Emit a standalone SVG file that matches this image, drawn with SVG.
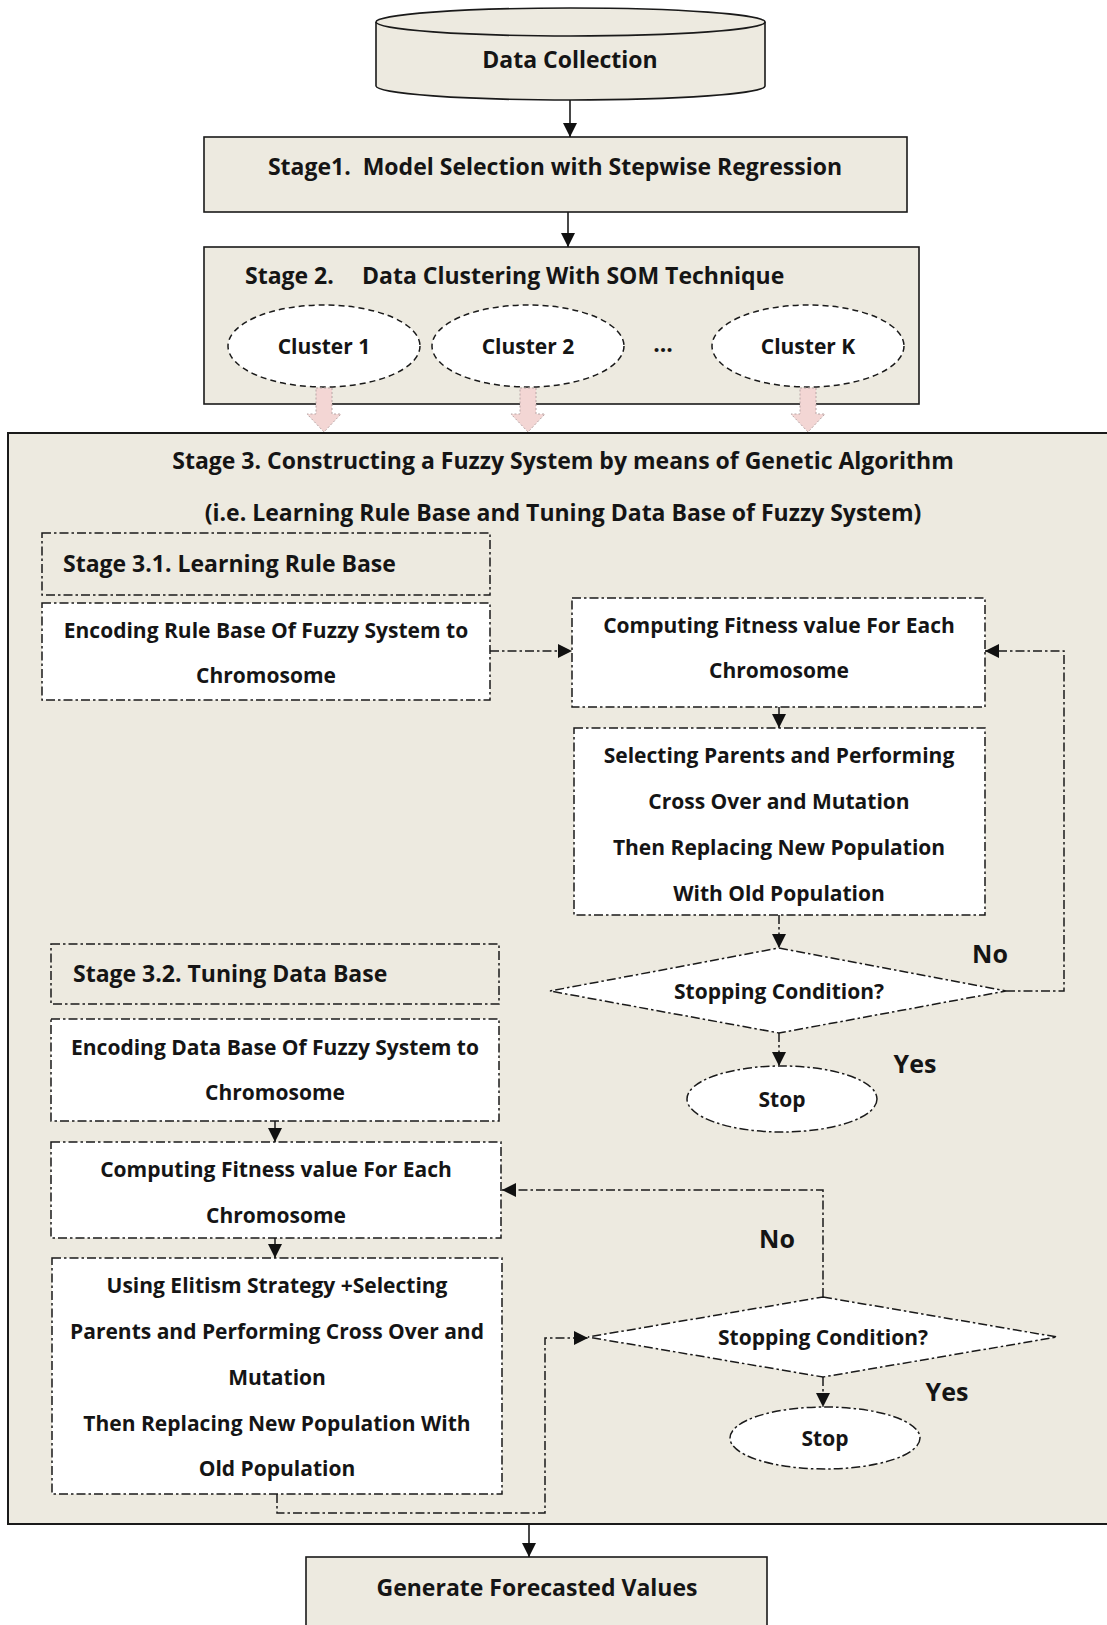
<svg xmlns="http://www.w3.org/2000/svg" width="1107" height="1625" viewBox="0 0 1107 1625">
<defs>
<style>
text{font-family:"Open Sans","Noto Sans","Liberation Sans",sans-serif;font-weight:bold;fill:#151515;}
.c{text-anchor:middle;}
.t23{font-size:23px;}
.t21{font-size:21px;}
.t25{font-size:25px;}
.solid{fill:#EDEAE0;stroke:#1a1a1a;stroke-width:1.6;}
.dd{stroke:#1a1a1a;stroke-width:1.5;stroke-dasharray:9,3,2.5,3;}
.wbox{fill:#ffffff;}
.nobox{fill:none;}
.dash{fill:#ffffff;stroke:#1a1a1a;stroke-width:1.5;stroke-dasharray:6,4;}
.line{fill:none;stroke:#1a1a1a;stroke-width:1.6;}
.ddl{fill:none;stroke:#1a1a1a;stroke-width:1.5;stroke-dasharray:9,3,2.5,3;}
.pink{fill:#F3D6D4;stroke:#b8a6a6;stroke-width:1;stroke-dasharray:2,2;}
</style>
<marker id="ah" markerUnits="userSpaceOnUse" markerWidth="16" markerHeight="16" refX="14" refY="7" orient="auto">
<path d="M0,0 L14,7 L0,14 z" fill="#111"/>
</marker>
</defs>
<rect width="1107" height="1625" fill="#ffffff"/>

<g id="data-collection">
<path class="solid" d="M376,22 L376,86 A194.5,14 0 0 0 765,86 L765,22"/>
<ellipse class="solid" cx="570.5" cy="22" rx="194.5" ry="14"/>
<text class="c t23" x="570" y="68">Data Collection</text>
</g>

<g id="stage1">
<rect class="solid" x="204" y="137" width="703" height="75"/>
<text class="c t23" x="555" y="175" xml:space="preserve">Stage1.  Model Selection with Stepwise Regression</text>
</g>

<g id="stage2">
<rect class="solid" x="204" y="247" width="715" height="157"/>
<text class="t23" x="245" y="284">Stage 2.</text>
<text class="t23" x="362" y="284">Data Clustering With SOM Technique</text>
<text class="c t23" x="663" y="352">...</text>
</g>
<g id="cluster1">
<ellipse class="dash" cx="324" cy="346" rx="96" ry="41"/>
<text class="c t21" x="324" y="354">Cluster 1</text>
</g>
<g id="cluster2">
<ellipse class="dash" cx="528" cy="346" rx="96" ry="41"/>
<text class="c t21" x="528" y="354">Cluster 2</text>
</g>
<g id="clusterK">
<ellipse class="dash" cx="808" cy="346" rx="96" ry="41"/>
<text class="c t21" x="808" y="354">Cluster K</text>
</g>

<g id="stage3">
<rect x="8" y="433" width="1102" height="1091" fill="#EDEAE0" stroke="#1a1a1a" stroke-width="2"/>
<text class="c t23" x="563" y="469">Stage 3. Constructing a Fuzzy System by means of Genetic Algorithm</text>
<text class="c t23" x="563" y="521">(i.e. Learning Rule Base and Tuning Data Base of Fuzzy System)</text>
</g>

<g id="stage31-header">
<rect class="dd nobox" x="42" y="533" width="448" height="62"/>
<text class="t23" x="63" y="572">Stage 3.1. Learning Rule Base</text>
</g>
<g id="encode-rule">
<rect class="dd wbox" x="42" y="603" width="448" height="97"/>
<text class="c t21" x="266" y="638">Encoding Rule Base Of Fuzzy System to</text>
<text class="c t21" x="266" y="683">Chromosome</text>
</g>
<g id="fitness1">
<rect class="dd wbox" x="572" y="598" width="413" height="109"/>
<text class="c t21" x="779" y="633">Computing Fitness value For Each</text>
<text class="c t21" x="779" y="678">Chromosome</text>
</g>
<g id="select1">
<rect class="dd wbox" x="574" y="728" width="411" height="187"/>
<text class="c t21" x="779" y="763">Selecting Parents and Performing</text>
<text class="c t21" x="779" y="809">Cross Over and Mutation</text>
<text class="c t21" x="779" y="855">Then Replacing New Population</text>
<text class="c t21" x="779" y="901">With Old Population</text>
</g>
<g id="decision1">
<path class="dd wbox" d="M779,948 L1006,991 L779,1033 L550,991 z"/>
<text class="c t21" x="779" y="999">Stopping Condition?</text>
</g>
<g id="stop1">
<ellipse class="dd wbox" cx="782" cy="1099" rx="95" ry="33"/>
<text class="c t21" x="782" y="1107">Stop</text>
</g>

<g id="stage32-header">
<rect class="dd nobox" x="51" y="944" width="448" height="60"/>
<text class="t23" x="73" y="982">Stage 3.2. Tuning Data Base</text>
</g>
<g id="encode-data">
<rect class="dd wbox" x="51" y="1019" width="448" height="102"/>
<text class="c t21" x="275" y="1055">Encoding Data Base Of Fuzzy System to</text>
<text class="c t21" x="275" y="1100">Chromosome</text>
</g>
<g id="fitness2">
<rect class="dd wbox" x="51" y="1142" width="450" height="96"/>
<text class="c t21" x="276" y="1177">Computing Fitness value For Each</text>
<text class="c t21" x="276" y="1223">Chromosome</text>
</g>
<g id="elitism">
<rect class="dd wbox" x="52" y="1258" width="450" height="236"/>
<text class="c t21" x="277" y="1293">Using Elitism Strategy +Selecting</text>
<text class="c t21" x="277" y="1339">Parents and Performing Cross Over and</text>
<text class="c t21" x="277" y="1385">Mutation</text>
<text class="c t21" x="277" y="1431">Then Replacing New Population With</text>
<text class="c t21" x="277" y="1476">Old Population</text>
</g>
<g id="decision2">
<path class="dd wbox" d="M823,1297 L1057,1337 L823,1377 L588,1337 z"/>
<text class="c t21" x="823" y="1345">Stopping Condition?</text>
</g>
<g id="stop2">
<ellipse class="dd wbox" cx="825" cy="1438" rx="95" ry="31"/>
<text class="c t21" x="825" y="1446">Stop</text>
</g>

<g id="generate">
<rect class="solid" x="306" y="1557" width="461" height="80"/>
<text class="c t23" x="537" y="1596">Generate Forecasted Values</text>
</g>

<g id="connectors">
<path class="line" d="M570,100 L570,137" marker-end="url(#ah)"/>
<path class="line" d="M568,212 L568,247" marker-end="url(#ah)"/>
<path class="line" d="M529,1525 L529,1557" marker-end="url(#ah)"/>
<path class="pink" d="M316,388 L332,388 L332,414 L341,414 L324,432 L307,414 L316,414 z"/>
<path class="pink" d="M520,388 L536,388 L536,414 L545,414 L528,432 L511,414 L520,414 z"/>
<path class="pink" d="M800,388 L816,388 L816,414 L825,414 L808,432 L791,414 L800,414 z"/>
<path class="ddl" d="M490,651 L572,651" marker-end="url(#ah)"/>
<path class="ddl" d="M1006,991 L1064,991 L1064,651 L985,651" marker-end="url(#ah)"/>
<path class="ddl" d="M779,707 L779,728" marker-end="url(#ah)"/>
<path class="ddl" d="M779,915 L779,948" marker-end="url(#ah)"/>
<path class="ddl" d="M779,1033 L779,1066" marker-end="url(#ah)"/>
<path class="ddl" d="M275,1121 L275,1142" marker-end="url(#ah)"/>
<path class="ddl" d="M275,1238 L275,1258" marker-end="url(#ah)"/>
<path class="ddl" d="M277,1494 L277,1513 L545,1513 L545,1338 L588,1338" marker-end="url(#ah)"/>
<path class="ddl" d="M823,1297 L823,1190 L502,1190" marker-end="url(#ah)"/>
<path class="ddl" d="M823,1377 L823,1407" marker-end="url(#ah)"/>
<text class="c t25" x="990" y="963">No</text>
<text class="c t25" x="915" y="1073">Yes</text>
<text class="c t25" x="777" y="1248">No</text>
<text class="c t25" x="947" y="1401">Yes</text>
</g>
</svg>
